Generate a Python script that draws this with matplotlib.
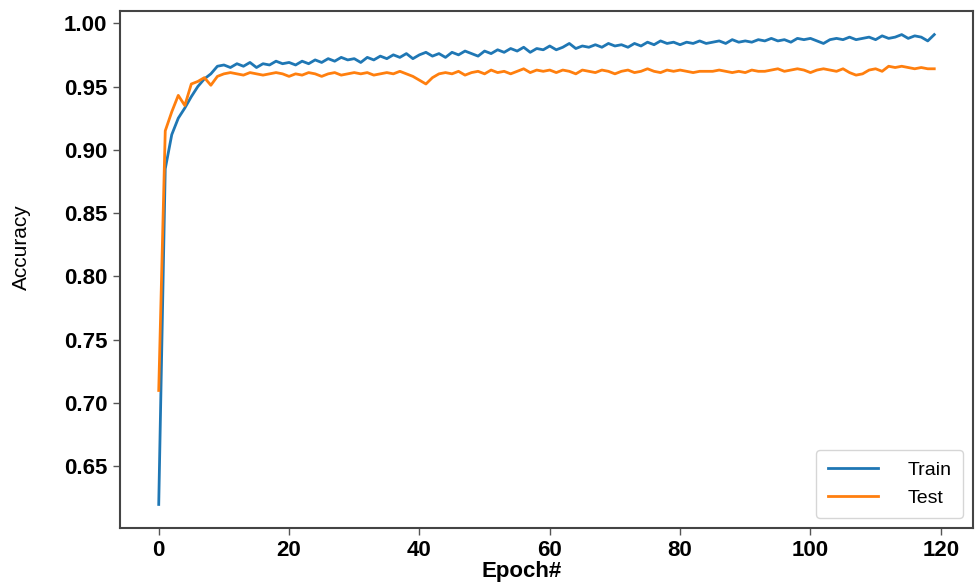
import numpy as np
import matplotlib
matplotlib.use("Agg")
import matplotlib.pyplot as plt

plt.rcParams['font.family'] = ['Liberation Sans', 'DejaVu Sans']

# accuracy per epoch
epochs = list(range(120))

train_acc = [
    0.620, 0.885, 0.912, 0.925, 0.933, 0.942, 0.950, 0.956, 0.960, 0.966,
    0.967, 0.965, 0.968, 0.966, 0.969, 0.965, 0.968, 0.967, 0.970, 0.968,
    0.969, 0.967, 0.970, 0.968, 0.971, 0.969, 0.972, 0.970, 0.973, 0.971,
    0.972, 0.969, 0.973, 0.971, 0.974, 0.972, 0.975, 0.973, 0.976, 0.972,
    0.975, 0.977, 0.974, 0.976, 0.973, 0.977, 0.975, 0.978, 0.976, 0.974,
    0.978, 0.976, 0.979, 0.977, 0.980, 0.978, 0.981, 0.977, 0.980, 0.979,
    0.982, 0.979, 0.981, 0.984, 0.980, 0.982, 0.981, 0.983, 0.981, 0.984,
    0.982, 0.983, 0.981, 0.984, 0.982, 0.985, 0.983, 0.986, 0.984, 0.985,
    0.983, 0.985, 0.984, 0.986, 0.984, 0.985, 0.986, 0.984, 0.987, 0.985,
    0.986, 0.985, 0.987, 0.986, 0.988, 0.986, 0.987, 0.985, 0.988, 0.987,
    0.988, 0.986, 0.984, 0.987, 0.988, 0.987, 0.989, 0.987, 0.988, 0.989,
    0.987, 0.990, 0.988, 0.989, 0.991, 0.988, 0.990, 0.989, 0.986, 0.991,
]

test_acc = [
    0.710, 0.915, 0.930, 0.943, 0.935, 0.952, 0.954, 0.957, 0.951, 0.958,
    0.960, 0.961, 0.960, 0.959, 0.961, 0.960, 0.959, 0.960, 0.961, 0.960,
    0.958, 0.960, 0.959, 0.961, 0.960, 0.958, 0.960, 0.961, 0.959, 0.960,
    0.961, 0.960, 0.961, 0.959, 0.960, 0.961, 0.960, 0.962, 0.960, 0.958,
    0.955, 0.952, 0.957, 0.960, 0.961, 0.960, 0.962, 0.959, 0.961, 0.962,
    0.960, 0.963, 0.961, 0.962, 0.960, 0.962, 0.964, 0.961, 0.963, 0.962,
    0.963, 0.961, 0.963, 0.962, 0.960, 0.963, 0.962, 0.961, 0.963, 0.962,
    0.960, 0.962, 0.963, 0.961, 0.962, 0.964, 0.962, 0.961, 0.963, 0.962,
    0.963, 0.962, 0.961, 0.962, 0.962, 0.962, 0.963, 0.962, 0.961, 0.962,
    0.961, 0.963, 0.962, 0.962, 0.963, 0.964, 0.962, 0.963, 0.964, 0.963,
    0.961, 0.963, 0.964, 0.963, 0.962, 0.964, 0.961, 0.959, 0.960, 0.963,
    0.964, 0.962, 0.966, 0.965, 0.966, 0.965, 0.964, 0.965, 0.964, 0.964,
]

fig = plt.figure(figsize=(9.8, 5.84), dpi=100)
ax = fig.add_axes([0.1224, 0.096, 0.8705, 0.885])

ax.plot(epochs, train_acc, color='#1f77b4', lw=2, label='Train')
ax.plot(epochs, test_acc, color='#ff7f0e', lw=2, label='Test')

ax.set_xticks([0, 20, 40, 60, 80, 100, 120])
ax.set_yticks(np.arange(0.65, 1.001, 0.05))
ax.yaxis.set_major_formatter(matplotlib.ticker.FormatStrFormatter('%.2f'))
for lbl in ax.get_xticklabels() + ax.get_yticklabels():
    lbl.set_fontweight('bold')
    lbl.set_fontsize(16)
ax.tick_params(length=5, width=1, color='#555555', pad=4)

for sp in ax.spines.values():
    sp.set_color('#444444')
    sp.set_linewidth(1.5)

ax.legend(loc='lower right', fontsize=14, handlelength=2.6, handletextpad=1.5,
          borderpad=0.6, frameon=True, fancybox=True)

fig.text(0.022, 0.577, 'Accuracy', rotation=90, ha='center', va='center',
         fontsize=15, family=['Liberation Sans Narrow', 'Liberation Sans', 'DejaVu Sans'])
fig.text(0.532, 0.003, 'Epoch#', ha='center', va='bottom', fontsize=16,
         fontweight='bold')

fig.savefig('out.png', dpi=100)
